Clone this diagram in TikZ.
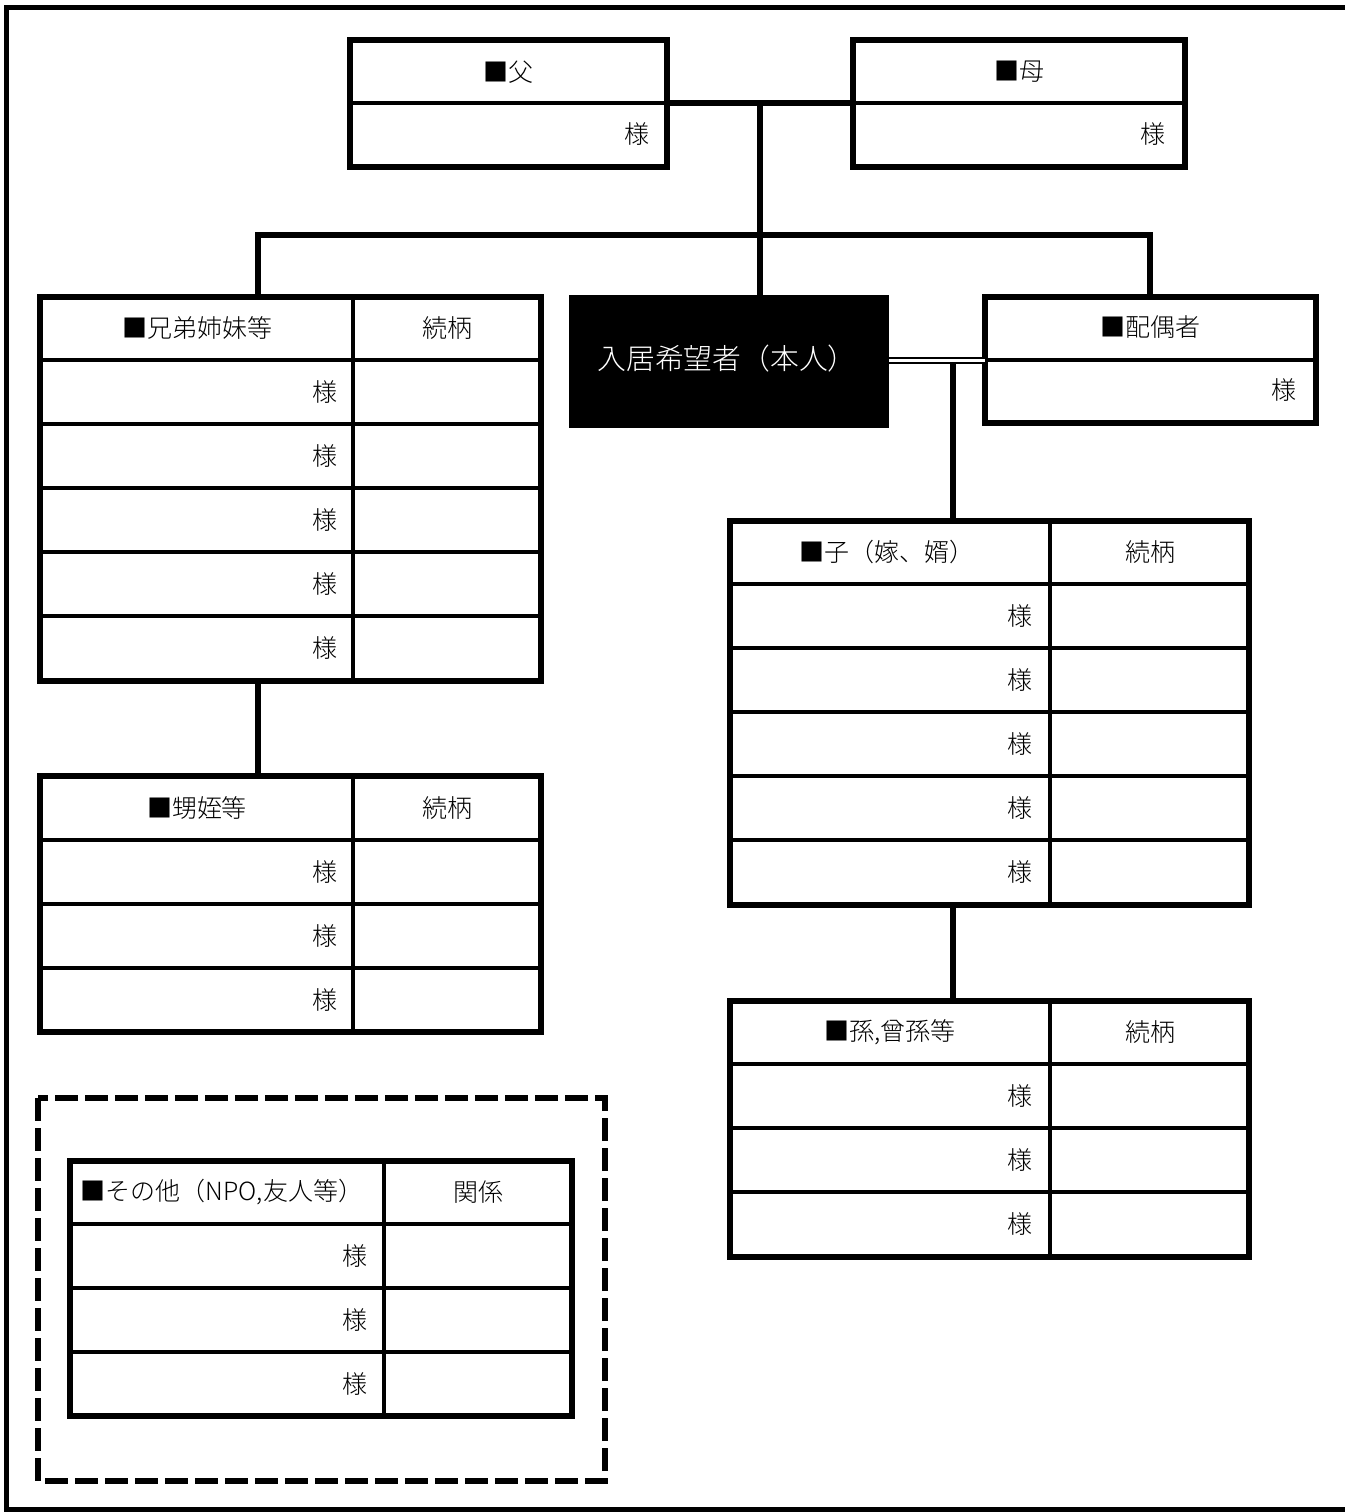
\documentclass[tikz,border=0pt]{standalone}
\usepackage{fontspec}
\setmainfont{Noto Sans CJK JP}[UprightFont=* Light]
\usetikzlibrary{fit}
\begin{document}
\begin{tikzpicture}[x=0.5pt,y=-0.5pt,
  box/.style={draw,line width=3pt,inner sep=0pt,outer sep=0pt},
  inner/.style={line width=2pt},
  conn/.style={line width=3pt},
  txt/.style={font=\fontsize{12.5pt}{14pt}\selectfont,inner sep=0pt},
  sama/.style={txt,anchor=east},
  frame/.style={line width=2.7pt},
  dashbox/.style={line width=2.6pt,dash pattern=on 11.5pt off 3.5pt}]
\useasboundingbox (0,0) rectangle (1345,1512);
% outer frame
\draw[frame] (1360,7.5) -- (6.5,7.5) -- (6.5,1510) -- (1360,1510);

% father / mother
\node[box,fit={(350,40) (667,167)}] (father) {};
\draw[inner] (350,103) -- (667,103);
\node[txt] (fatherH) at (508.5,72) {■父};
\node[sama] (fatherS) at (650,134) {様};
\node[box,fit={(853,40) (1185,167)}] (mother) {};
\draw[inner] (853,103) -- (1185,103);
\node[txt] (motherH) at (1019,72) {■母};
\node[sama] (motherS) at (1166,134) {様};

% self
\node[fill=black,inner sep=0pt,outer sep=0pt,fit={(569,295) (889,428)}] (self) {};
\node[txt,text=white,font=\fontsize{14.4pt}{16pt}\selectfont] (selfT) at (727,359) {入居希望者（本人）};

% spouse
\node[box,fit={(985,297) (1316,423)}] (spouse) {};
\draw[inner] (985,360) -- (1316,360);
\node[txt] (spouseH) at (1150,327) {■配偶者};
\node[sama] (spouseS) at (1297,390) {様};

% siblings
\node[box,fit={(40,297) (541,681)}] (sib) {};
\draw[inner] (353,297) -- (353,681);
\foreach \yy in {360,424,488,552,616} {
  \draw[inner] (40,\yy) -- (541,\yy);
  \node[sama] at (338,\yy+32) {様};
}
\node[txt] (sibH) at (197,328) {■兄弟姉妹等};
\node[txt] (sibR) at (447,328) {続柄};

% nephews
\node[box,fit={(40,776) (541,1032)}] (neph) {};
\draw[inner] (353,776) -- (353,1032);
\foreach \yy in {840,904,968} {
  \draw[inner] (40,\yy) -- (541,\yy);
  \node[sama] at (338,\yy+32) {様};
}
\node[txt] (nephH) at (197,808) {■甥姪等};
\node[txt] (nephR) at (447,808) {続柄};

% children
\node[box,fit={(730,521) (1249,905)}] (child) {};
\draw[inner] (1050,521) -- (1050,905);
\foreach \yy in {584,648,712,776,840} {
  \draw[inner] (730,\yy) -- (1249,\yy);
  \node[sama] at (1033,\yy+32) {様};
}
\node[txt] (childH) at (887,552) {■子（嫁、婿）};
\node[txt] (childR) at (1150,552) {続柄};

% grandchildren
\node[box,fit={(730,1001) (1249,1257)}] (grand) {};
\draw[inner] (1050,1001) -- (1050,1257);
\foreach \yy in {1064,1128,1192} {
  \draw[inner] (730,\yy) -- (1249,\yy);
  \node[sama] at (1033,\yy+32) {様};
}
\node[txt] (grandH) at (890,1032) {■孫,曾孫等};
\node[txt] (grandR) at (1150,1032) {続柄};

% others (dashed group)
\draw[dashbox] (38,1098) rectangle (605,1481);
\node[box,fit={(70,1161) (572,1416)}] (other) {};
\draw[inner] (384,1161) -- (384,1416);
\foreach \yy in {1224,1288,1352} {
  \draw[inner] (70,\yy) -- (572,\yy);
  \node[sama] at (368,\yy+32) {様};
}
\node[txt] (otherH) at (222,1192) {■その他（NPO,友人等）};
\node[txt] (otherR) at (478,1192) {関係};

% connectors
\coordinate (pmid) at (760,103);
\coordinate (bar) at (760,235);
\draw[conn] (father.east |- pmid) -- (mother.west |- pmid);
\draw[conn] (pmid) -- (bar);
\draw[conn] (sib.north -| 258,0) -- (258,235) -- (1150,235) -- (spouse.north -| 1150,0);
\draw[conn] (bar) -- (self.north -| bar);
\draw[line width=1pt,double,double distance=1.6pt] (self.east |- 0,360.5) -- (spouse.west |- 0,360.5);
\coordinate (smid) at (952.5,362);
\draw[conn] (smid) -- (child.north -| smid);
\draw[conn] (sib.south -| 258,0) -- (neph.north -| 258,0);
\draw[conn] (child.south -| smid) -- (grand.north -| smid);
\end{tikzpicture}
\end{document}
